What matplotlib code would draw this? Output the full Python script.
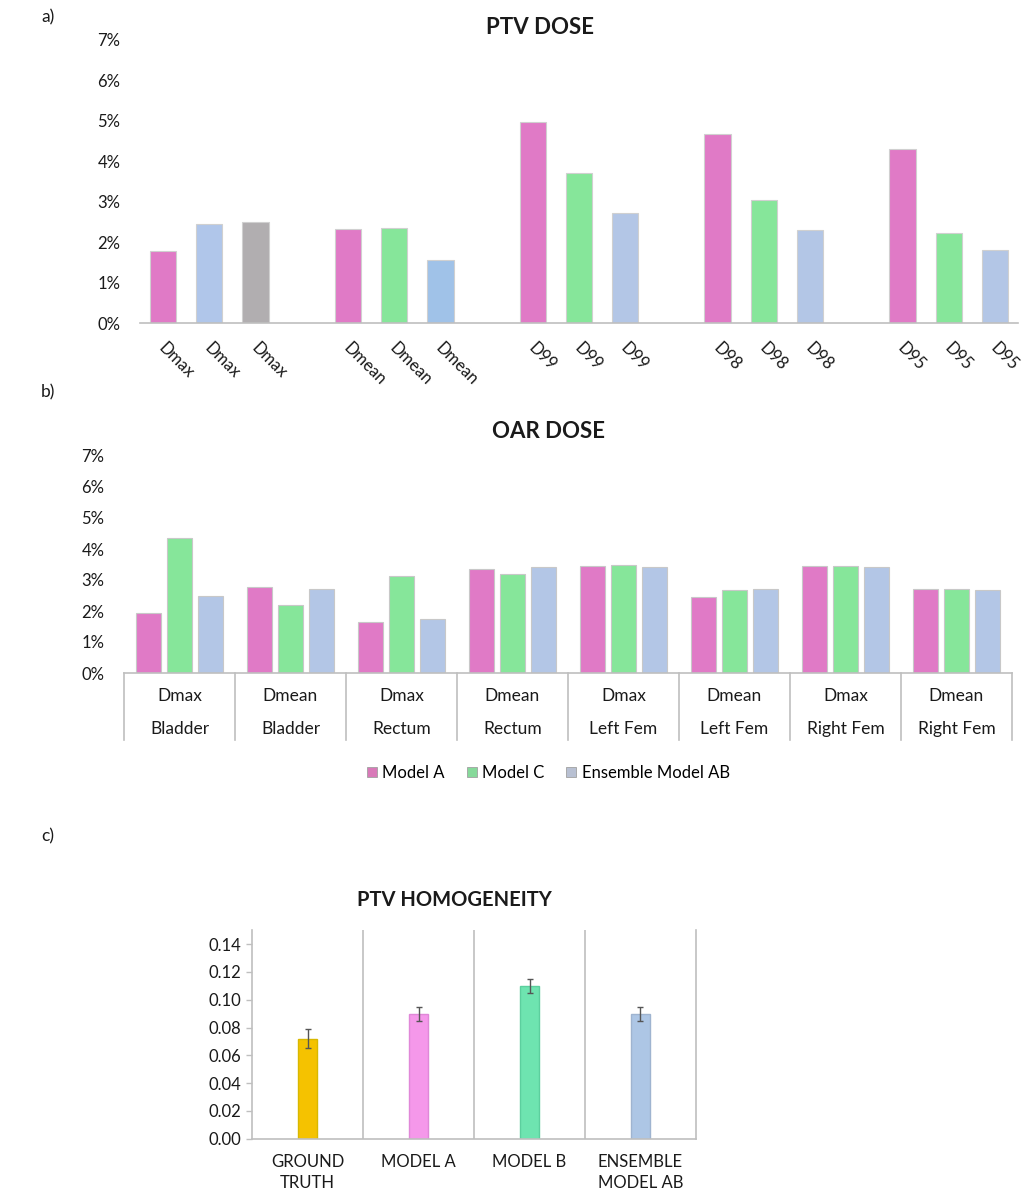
import matplotlib
matplotlib.use('Agg')
import matplotlib.pyplot as plt
import matplotlib.patches as mpatches
import numpy as np

plt.rcParams['font.family'] = ['Lato', 'DejaVu Sans']

# ---- panel a: PTV dose (% difference) ----
ptv_metrics = ['Dmax', 'Dmean', 'D99', 'D98', 'D95']
ptv_values = [
    [1.77, 2.45, 2.51],
    [2.32, 2.34, 1.55],
    [4.97, 3.71, 2.71],
    [4.68, 3.04, 2.31],
    [4.31, 2.22, 1.81],
]
ptv_colors = [
    ['#e07ac6', '#b0c6ea', '#b1aeb0'],
    ['#e07ac6', '#86e69a', '#a0c2e8'],
    ['#e07ac6', '#86e69a', '#b3c6e6'],
    ['#e07ac6', '#86e69a', '#b3c6e6'],
    ['#e07ac6', '#86e69a', '#b3c6e6'],
]

# ---- panel b: OAR dose ----
oar_stats = ['Dmax', 'Dmean', 'Dmax', 'Dmean', 'Dmax', 'Dmean', 'Dmax', 'Dmean']
oar_organs = ['Bladder', 'Bladder', 'Rectum', 'Rectum', 'Left Fem', 'Left Fem', 'Right Fem', 'Right Fem']
oar_series = ['Model A', 'Model C', 'Ensemble Model AB']
oar_model_a = [1.93, 2.76, 1.66, 3.37, 3.46, 2.45, 3.46, 2.71]
oar_model_c = [4.36, 2.18, 3.13, 3.19, 3.49, 2.68, 3.45, 2.71]
oar_ensemble = [2.48, 2.70, 1.73, 3.42, 3.41, 2.71, 3.41, 2.68]
oar_colors = ['#e07ac6', '#86e69a', '#b3c6e6']

# ---- panel c: PTV homogeneity ----
hom_labels = ['GROUND\nTRUTH', 'MODEL A', 'MODEL B', 'ENSEMBLE\nMODEL AB']
hom_values = [0.072, 0.090, 0.110, 0.090]
hom_errors = [0.007, 0.005, 0.005, 0.005]
hom_colors = ['#f5c200', '#f598ea', '#6ee4b0', '#adc6e5']
hom_edges = ['#d8b800', '#e088d8', '#5ccf9e', '#9fb4d0']

W, H = 1027, 1200
fig = plt.figure(figsize=(W / 100, H / 100), dpi=100)
axis_grey = '#bfbfbf'
txt = '#1a1a1a'


def frac(x0, y_top, x1, y_bot):
    return [x0 / W, 1 - y_bot / H, (x1 - x0) / W, (y_bot - y_top) / H]


# ---------------- a) ----------------
ax1 = fig.add_axes(frac(140, 40, 1018, 323))
pos, labs = [], []
for g, metric in enumerate(ptv_metrics):
    for j in range(3):
        x = g * 4 + j
        ax1.bar(x, ptv_values[g][j], width=0.57, color=ptv_colors[g][j],
                edgecolor='#d0d0d0', linewidth=0.8, zorder=2)
        pos.append(x + 0.08)
        labs.append(metric)
ax1.set_xlim(-0.5, 18.5)
ax1.set_ylim(0, 7)
ax1.set_yticks(range(0, 8))
ax1.set_yticklabels([f'{v}%' for v in range(0, 8)])
ax1.set_xticks(pos)
ax1.set_xticklabels(labs, rotation=-45, ha='left', rotation_mode='anchor')
ax1.tick_params(axis='x', length=0, pad=12, labelsize=12, colors=txt)
ax1.tick_params(axis='y', length=0, pad=14, labelsize=12, colors=txt)
for s in ['top', 'right', 'left']:
    ax1.spines[s].set_visible(False)
ax1.spines['bottom'].set_color(axis_grey)
ax1.spines['bottom'].set_linewidth(1.2)
fig.text(540 / W, 1 - 27 / H, 'PTV DOSE', ha='center', va='center',
         fontsize=16, fontweight='bold', color=txt)

# ---------------- b) ----------------
ax2 = fig.add_axes(frac(124, 456, 1012, 673))
xs = np.arange(len(oar_stats))
for j, (vals, name) in enumerate(zip([oar_model_a, oar_model_c, oar_ensemble], oar_series)):
    ax2.bar(xs + (j - 1) * 0.28, vals, width=0.22, color=oar_colors[j],
            edgecolor='#c8c8c8', linewidth=0.8, zorder=2, label=name)
ax2.set_xlim(-0.5, 7.5)
ax2.set_ylim(0, 7)
ax2.set_yticks(range(0, 8))
ax2.set_yticklabels([f'{v}%' for v in range(0, 8)])
ax2.set_xticks([])
ax2.tick_params(axis='y', length=0, pad=14, labelsize=12, colors=txt)
for s in ['top', 'right', 'left']:
    ax2.spines[s].set_visible(False)
ax2.spines['bottom'].set_color(axis_grey)
ax2.spines['bottom'].set_linewidth(1.2)
tr = ax2.get_xaxis_transform()
for b in np.arange(-0.5, 8.0, 1.0):
    ax2.plot([b, b], [0, -0.31], transform=tr, color=axis_grey, lw=1.2, clip_on=False)
for i in xs:
    ax2.text(i, -0.105, oar_stats[i], transform=tr, ha='center', va='center',
             fontsize=12.5, color=txt)
    ax2.text(i, -0.258, oar_organs[i], transform=tr, ha='center', va='center',
             fontsize=12.5, color=txt)
handles = [mpatches.Patch(facecolor=c, edgecolor='#a0a0a0', linewidth=0.6, label=n)
           for c, n in zip(['#d879b8', '#86d99a', '#b8c0d2'], oar_series)]
ax2.legend(handles=handles, loc='center', bbox_to_anchor=(0.478, -0.46), ncol=3,
           frameon=False, fontsize=12, handlelength=0.6, handleheight=0.6,
           handletextpad=0.35, columnspacing=1.3)
fig.text(548 / W, 1 - 432 / H, 'OAR DOSE', ha='center', va='center',
         fontsize=16, fontweight='bold', color=txt)

# ---------------- c) ----------------
ax3 = fig.add_axes(frac(252, 930.2, 696, 1138.7))
xc = np.arange(len(hom_values))
ax3.bar(xc, hom_values, width=0.18, color=hom_colors, edgecolor=hom_edges,
        linewidth=1.0, zorder=2)
ax3.errorbar(xc, hom_values, yerr=hom_errors, fmt='none', ecolor='#555555',
             elinewidth=1.0, capsize=2.5, capthick=1.0, zorder=3)
ax3.set_xlim(-0.5, 3.5)
ax3.set_ylim(0, 0.15)
ax3.set_yticks(np.arange(0, 0.141, 0.02))
ax3.set_yticklabels([f'{v:.2f}' for v in np.arange(0, 0.141, 0.02)])
ax3.set_xticks(xc)
ax3.set_xticklabels(hom_labels, linespacing=1.35)
ax3.tick_params(axis='x', length=0, pad=11, labelsize=12, colors=txt)
ax3.tick_params(axis='y', length=4, width=1, color=axis_grey, pad=4,
                labelsize=12, colors=txt)
ax3.tick_params(axis='y', color=axis_grey)
ax3.spines['top'].set_visible(False)
for s in ['left', 'right', 'bottom']:
    ax3.spines[s].set_color(axis_grey)
    ax3.spines[s].set_linewidth(1.2)
for b in [0.5, 1.5, 2.5]:
    ax3.axvline(b, color=axis_grey, lw=1.2, zorder=1)
fig.text(454 / W, 1 - 900 / H, 'PTV HOMOGENEITY', ha='center', va='center',
         fontsize=14.5, fontweight='bold', color=txt)

# panel letters
for lab, y in [('a)', 17), ('b)', 392), ('c)', 836)]:
    fig.text(48 / W, 1 - y / H, lab, ha='center', va='center', fontsize=12.5, color=txt)

fig.savefig('out.png', dpi=100, facecolor='white')
